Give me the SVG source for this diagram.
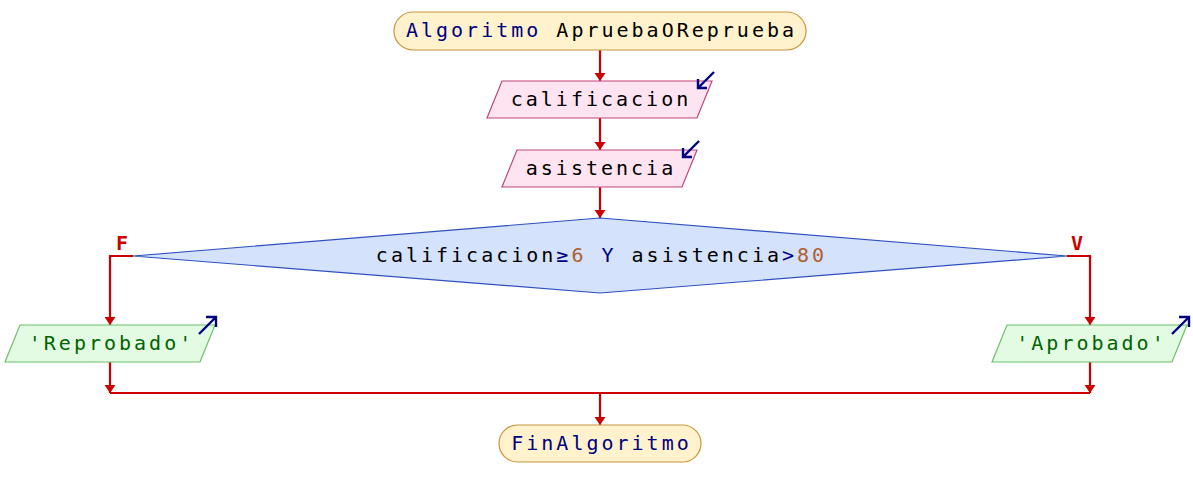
<svg xmlns="http://www.w3.org/2000/svg" width="1193" height="481" viewBox="0 0 1193 481">
<style>
text{font-family:"DejaVu Sans Mono","Liberation Mono",monospace;font-size:20px;letter-spacing:3px;text-anchor:middle}
.kw{fill:#000080}.var{fill:#000000}.str{fill:#006400}.num{fill:#b0602e}
.term{fill:#fff2cc;stroke:#c8963c;stroke-width:1.2}
.inp{fill:#fde4f0;stroke:#c0457a;stroke-width:1.2}
.out{fill:#e2fbe2;stroke:#6cc06c;stroke-width:1.2}
.dec{fill:#d4e2fc;stroke:#3050c0;stroke-width:1.2}
.con{fill:none;stroke:#cc0000;stroke-width:2.2}
.ico{fill:none;stroke:#000080;stroke-width:2.4}
.lbl{fill:#cc0000;font-weight:bold;letter-spacing:0}
</style>
<defs>
<marker id="ah" markerWidth="9" markerHeight="12" refX="8" refY="6" orient="auto" markerUnits="userSpaceOnUse">
<path d="M0,0.5 L8,6 L0,11.5 Z" fill="#cc0000"/>
</marker>
</defs>
<g id="connectors">
<path class="con" d="M600,50 V81" marker-end="url(#ah)"/>
<path class="con" d="M600,118 V150" marker-end="url(#ah)"/>
<path class="con" d="M600,187 V218" marker-end="url(#ah)"/>
<path class="con" d="M133,256 H110 V325" marker-end="url(#ah)"/>
<path class="con" d="M1067,256 H1090 V325" marker-end="url(#ah)"/>
<path class="con" d="M110,362 V393" marker-end="url(#ah)"/>
<path class="con" d="M1090,362 V393" marker-end="url(#ah)"/>
<path class="con" d="M110,393 H1090"/>
<path class="con" d="M600,393 V425" marker-end="url(#ah)"/>
<text class="lbl" x="122" y="250">F</text>
<text class="lbl" x="1077" y="250">V</text>
</g>
<g id="start">
<rect class="term" x="394" y="12" width="412" height="38" rx="19"/>
<text x="601.5" y="37"><tspan class="kw">Algoritmo</tspan><tspan class="var"> ApruebaOReprueba</tspan></text>
</g>
<g id="read1">
<polygon class="inp" points="502,81 712,81 697,118 487,118"/>
<text class="var" x="601" y="106">calificacion</text>
<path class="ico" d="M714,72 L698,88 M698,79 V88 H707"/>
</g>
<g id="read2">
<polygon class="inp" points="517,150 697,150 682,187 502,187"/>
<text class="var" x="601" y="175">asistencia</text>
<path class="ico" d="M699,141 L683,157 M683,148 V157 H692"/>
</g>
<g id="decision">
<polygon class="dec" points="600,218 1067,256 600,293 133,256"/>
<text x="601.5" y="262"><tspan class="var">calificacion</tspan><tspan class="kw">≥</tspan><tspan class="num">6</tspan><tspan class="kw"> Y </tspan><tspan class="var">asistencia</tspan><tspan class="kw">&gt;</tspan><tspan class="num">80</tspan></text>
</g>
<g id="outNo">
<polygon class="out" points="20,325 215,325 200,362 5,362"/>
<text class="str" x="111.5" y="350">'Reprobado'</text>
<path class="ico" d="M199,334 L215,318 M206,317 H216 V327"/>
</g>
<g id="outYes">
<polygon class="out" points="1007,325 1187,325 1172,362 992,362"/>
<text class="str" x="1091.5" y="350">'Aprobado'</text>
<path class="ico" d="M1172,334 L1188,318 M1179,317 H1189 V327"/>
</g>
<g id="end">
<rect class="term" x="499" y="425" width="202" height="37" rx="18.5"/>
<text class="kw" x="601.5" y="450">FinAlgoritmo</text>
</g>
</svg>
